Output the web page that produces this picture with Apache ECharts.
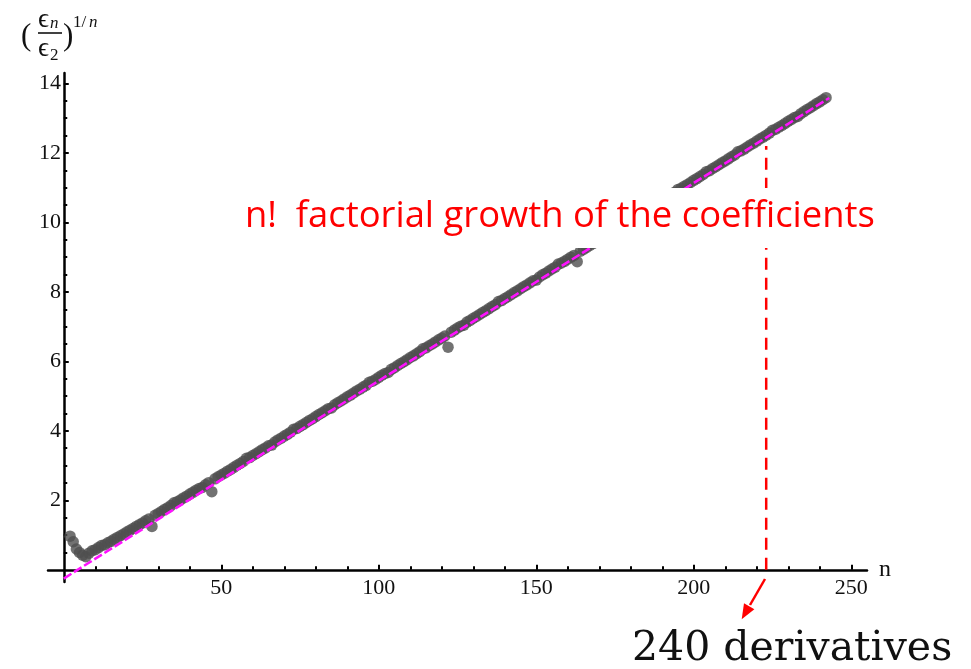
<!DOCTYPE html>
<html><head><meta charset="utf-8">
<script src="https://cdn.jsdelivr.net/npm/echarts@6/dist/echarts.min.js"></script>
<style>html,body{margin:0;padding:0;background:#fff}#c{width:971px;height:669px}</style>
</head><body><div id="c"></div>
<script>
// n runs from nStart upward, one value per n
const nStart = 2;
const ratioValues = [
  0.97, 0.81, 0.60, 0.50, 0.42, 0.38, 0.48, 0.55, 0.58, 0.64,
  0.70, 0.72, 0.78, 0.82, 0.88, 0.93, 0.98, 1.03, 1.09, 1.14,
  1.19, 1.25, 1.30, 1.35, 1.41, 1.46, 1.25, 1.57, 1.62, 1.68,
  1.74, 1.79, 1.85, 1.93, 1.96, 2.01, 2.07, 2.12, 2.18, 2.23,
  2.29, 2.34, 2.37, 2.45, 2.51, 2.25, 2.62, 2.68, 2.73, 2.78,
  2.84, 2.89, 2.95, 3.01, 3.06, 3.12, 3.21, 3.23, 3.29, 3.34,
  3.40, 3.46, 3.51, 3.57, 3.59, 3.68, 3.74, 3.79, 3.85, 3.90,
  3.96, 4.05, 4.07, 4.13, 4.18, 4.24, 4.30, 4.35, 4.41, 4.47,
  4.52, 4.58, 4.64, 4.66, 4.75, 4.81, 4.86, 4.92, 4.98, 5.03,
  5.09, 5.15, 5.20, 5.26, 5.31, 5.40, 5.43, 5.48, 5.54, 5.60,
  5.65, 5.68, 5.77, 5.82, 5.88, 5.94, 5.99, 6.05, 6.11, 6.16,
  6.22, 6.28, 6.36, 6.39, 6.45, 6.50, 6.56, 6.62, 6.67, 6.73,
  6.41, 6.84, 6.90, 6.96, 7.01, 7.04, 7.13, 7.18, 7.24, 7.29,
  7.35, 7.41, 7.46, 7.52, 7.58, 7.63, 7.72, 7.75, 7.81, 7.86,
  7.92, 7.98, 8.03, 8.09, 8.15, 8.20, 8.26, 8.32, 8.34, 8.43,
  8.49, 8.54, 8.60, 8.66, 8.71, 8.80, 8.83, 8.88, 8.94, 9.00,
  9.05, 8.87, 9.17, 9.22, 9.28, 9.34, 9.39, 9.45, 9.48, 9.56,
  9.62, 9.67, 9.73, 9.79, 9.84, 9.90, 9.96, 10.01, 10.10, 10.13,
  10.19, 10.24, 10.30, 10.36, 10.41, 10.50, 10.53, 10.58, 10.64, 10.70,
  10.75, 10.81, 10.87, 10.95, 10.98, 11.04, 11.09, 11.15, 11.21, 11.26,
  11.32, 11.38, 11.46, 11.49, 11.55, 11.60, 11.66, 11.72, 11.77, 11.83,
  11.89, 11.94, 12.03, 12.06, 12.11, 12.17, 12.23, 12.28, 12.34, 12.40,
  12.45, 12.51, 12.57, 12.65, 12.68, 12.74, 12.79, 12.85, 12.91, 12.96,
  13.02, 13.05, 13.13, 13.19, 13.25, 13.30, 13.36, 13.42, 13.47, 13.53,
  13.59
];
const xMajorTicks = [50, 100, 150, 200, 250];
const xMinorTicks = [10, 20, 30, 40, 60, 70, 80, 90, 110, 120, 130, 140, 160, 170, 180, 190, 210, 220, 230, 240];
const yMajorTicks = [2, 4, 6, 8, 10, 12, 14];
const yMinorTicks = [0.5, 1, 1.5, 2.5, 3, 3.5, 4.5, 5, 5.5, 6.5, 7, 7.5, 8.5, 9, 9.5, 10.5, 11, 11.5, 12.5, 13, 13.5];
const fitN = [0, 243];
const fitY = [-0.25, 13.58];
const markerN = 223;
const markerTop = 12.2;

const points = ratioValues.map((v, i) => [nStart + i, v]);
const fitData = fitN.map((n, i) => [n, fitY[i]]);
const markerData = [[markerN, 0], [markerN, markerTop]];

const serif = 'Liberation Serif';
const X_MIN = -5, X_MAX = 255, Y_MIN = -0.35, Y_MAX = 14.3;

const chart = echarts.init(document.getElementById('c'), null, {renderer: 'canvas'});

function xAxisDef(major) {
  return {
    type: 'value', min: X_MIN, max: X_MAX, position: 'bottom',
    name: major ? 'n' : '', nameLocation: 'end', nameGap: 12,
    nameTextStyle: {fontFamily: serif, fontSize: 24, color: '#111', verticalAlign: 'middle'},
    axisLine: {show: major, onZero: true, lineStyle: {color: '#000', width: 2.5}},
    axisTick: {show: true, inside: true, length: major ? 5 : 3.5, customValues: major ? xMajorTicks : xMinorTicks,
      lineStyle: {color: '#000', width: 2}},
    axisLabel: {show: major, customValues: xMajorTicks, margin: -5, fontFamily: serif, fontSize: 22, color: '#111'},
    splitLine: {show: false}
  };
}
function yAxisDef(major) {
  return {
    type: 'value', min: Y_MIN, max: Y_MAX, position: 'left',
    axisLine: {show: major, onZero: true, lineStyle: {color: '#000', width: 2.5}},
    axisTick: {show: true, inside: true, length: major ? 5 : 3.5, customValues: major ? yMajorTicks : yMinorTicks,
      lineStyle: {color: '#000', width: 2}},
    axisLabel: {show: major, customValues: yMajorTicks, margin: -13, fontFamily: serif, fontSize: 22, color: '#111'},
    splitLine: {show: false}
  };
}

chart.setOption({
  animation: false,
  backgroundColor: '#fff',
  grid: {left: 48, right: 104, top: 73, bottom: 87, containLabel: false, outerBoundsMode: 'none'},
  xAxis: [xAxisDef(true), xAxisDef(false)],
  yAxis: [yAxisDef(true), yAxisDef(false)],
  series: [
    {
      type: 'scatter', data: points, symbol: 'circle', symbolSize: 11.5,
      itemStyle: {color: '#4f4f4f'}, z: 2, silent: true
    },
    {
      type: 'line', data: fitData, showSymbol: false, symbol: 'none',
      lineStyle: {color: '#ff11ff', width: 2.6, type: [9, 3]}, z: 3, silent: true
    },
    {
      type: 'line', data: markerData, showSymbol: false, symbol: 'none',
      lineStyle: {color: '#ff0000', width: 2.5, type: [12, 8]}, z: 4, silent: true
    }
  ],
  graphic: [
    // y-axis label (eps_n / eps_2)^(1/n)
    {type: 'text', x: 21, y: 37, z: 10, style: {text: '(', fontFamily: serif, fontSize: 31, fill: '#111', textVerticalAlign: 'middle'}},
    {type: 'text', x: 38, y: 20, z: 10, style: {text: '\u03F5', fontFamily: serif, fontSize: 27, fill: '#111', textVerticalAlign: 'middle'}},
    {type: 'text', x: 50, y: 24, z: 10, style: {text: 'n', fontFamily: serif, fontStyle: 'italic', fontSize: 17, fill: '#111', textVerticalAlign: 'middle'}},
    {type: 'line', z: 10, shape: {x1: 38, y1: 33, x2: 62, y2: 33}, style: {stroke: '#111', lineWidth: 1.6}},
    {type: 'text', x: 38, y: 49, z: 10, style: {text: '\u03F5', fontFamily: serif, fontSize: 27, fill: '#111', textVerticalAlign: 'middle'}},
    {type: 'text', x: 50, y: 56, z: 10, style: {text: '2', fontFamily: serif, fontSize: 17, fill: '#111', textVerticalAlign: 'middle'}},
    {type: 'text', x: 63, y: 37, z: 10, style: {text: ')', fontFamily: serif, fontSize: 31, fill: '#111', textVerticalAlign: 'middle'}},
    {type: 'text', x: 73, y: 23, z: 10, style: {text: '1/', fontFamily: serif, fontSize: 17, fill: '#111', textVerticalAlign: 'middle'}},
    {type: 'text', x: 89, y: 23, z: 10, style: {text: 'n', fontFamily: serif, fontStyle: 'italic', fontSize: 17, fill: '#111', textVerticalAlign: 'middle'}},
    // annotation box
    {type: 'rect', z: 20, shape: {x: 238, y: 188, width: 645, height: 60}, style: {fill: '#fff'}},
    {type: 'text', x: 245, y: 217, z: 21, style: {text: 'n!  factorial growth of the coefficients', fontFamily: 'Open Sans', fontSize: 36.4, fill: '#ff0000', textVerticalAlign: 'middle'}},
    // arrow
    {type: 'line', z: 21, shape: {x1: 765, y1: 579, x2: 750, y2: 605}, style: {stroke: '#ff0000', lineWidth: 2.5}},
    {type: 'polygon', z: 21, shape: {points: [[741.7, 619.3], [754.4, 609.3], [744, 603.3]]}, style: {fill: '#ff0000'}},
    {type: 'text', x: 632, y: 649, z: 21, style: {text: '240 derivatives', fontFamily: 'DejaVu Serif', fontSize: 41, fill: '#111', textVerticalAlign: 'middle'}}
  ]
});
</script>
</body></html>
